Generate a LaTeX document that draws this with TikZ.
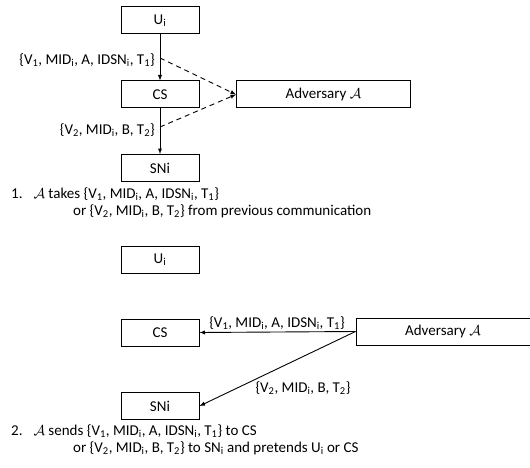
\documentclass[tikz,border=0pt]{standalone}
\usepackage{fontspec}
\setmainfont{Carlito}
\usepackage{tikz}

\newcommand{\msgone}{\{V\textsubscript{1}, MID\textsubscript{i}, A, IDSN\textsubscript{i}, T\textsubscript{1}\}}
\newcommand{\msgtwo}{\{V\textsubscript{2}, MID\textsubscript{i}, B, T\textsubscript{2}\}}
\newcommand{\adv}{$\mathcal{A}$}

\begin{document}
\begin{tikzpicture}
  [x=1pt, y=-1pt, >=latex, font=\fontsize{15}{17}\selectfont,
   party/.style={draw, line width=1pt, minimum width=78pt, minimum height=27pt, inner sep=0pt},
   advbox/.style={draw, line width=1pt, minimum width=174pt, minimum height=27pt, inner sep=0pt}]
  \useasboundingbox (0, 0) rectangle (530, 468);

  % step 1
  \node[party] (u1) at (160, 20.5) {U\textsubscript{i}};
  \node[party] (cs1) at (160, 94.5) {CS};
  \node[party] (sn1) at (160, 168) {SNi};
  \node[advbox] (adv1) at (323.5, 94.5) {Adversary \adv};
  \coordinate (t1) at (160, 58);
  \coordinate (t2) at (160, 127);
  \node[anchor=east, inner sep=0pt] (m1) at (155, 60) {\msgone};
  \node[anchor=east, inner sep=0pt] (m2) at (155, 130) {\msgtwo};

  \draw[->, line width=0.9pt] (u1) -- (cs1);
  \draw[->, line width=0.9pt] (cs1) -- (sn1);
  \foreach \from in {t1,t2}
  \draw[->, dash pattern=on 5pt off 4pt, line width=0.9pt] (\from) -- (adv1.west);

  \node[anchor=north west, align=left, inner sep=0pt] (s1) at (11, 187)
    {1.\hspace{11pt}\adv{} takes \msgone\\
     \hspace{62pt}or \msgtwo{} from previous communication};

  % step 2
  \node[party] (u2) at (160, 259.5) {U\textsubscript{i}};
  \node[party] (cs2) at (160, 332.5) {CS};
  \node[party] (sn2) at (160, 406) {SNi};
  \node[advbox] (adv2) at (443, 331.5) {Adversary \adv};

  \draw[->, line width=0.9pt] (adv2.west) -- (cs2.east);
  \draw[->, line width=0.9pt] (adv2.west) -- (sn2.east);
  \node[inner sep=0pt] (m3) at (277, 323) {\msgone};
  \node[inner sep=0pt] (m4) at (303, 388) {\msgtwo};

  \node[anchor=north west, align=left, inner sep=0pt] (s2) at (11, 424)
    {2.\hspace{11pt}\adv{} sends \msgone{} to CS\\
     \hspace{62pt}or \msgtwo{} to SN\textsubscript{i} and pretends U\textsubscript{i} or CS};
\end{tikzpicture}
\end{document}
